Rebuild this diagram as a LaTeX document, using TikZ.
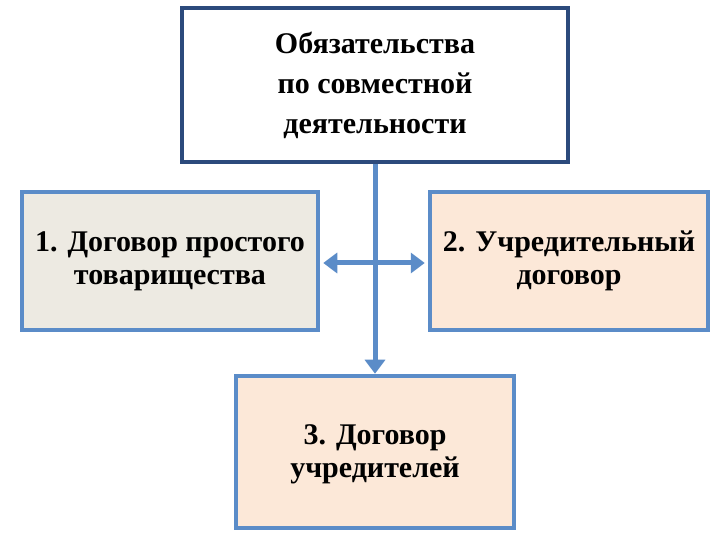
\documentclass[tikz,border=0pt]{standalone}
\usepackage{fontspec}
\setmainfont{Liberation Serif}
\usetikzlibrary{arrows.meta,calc}
\begin{document}
\begin{tikzpicture}[x=1pt,y=1pt,
 box/.style={line width=4.5pt,align=center,font=\bfseries\fontsize{30}{33}\selectfont},
 conn/.style={line width=5pt,draw=arrblue,arrows={-Triangle[length=14pt,width=20pt]}}]
\definecolor{darkb}{HTML}{2C4A7C}
\definecolor{midb}{HTML}{5B8CC8}
\definecolor{arrblue}{HTML}{5B8CC8}
\definecolor{greyf}{HTML}{EDEAE2}
\definecolor{peach}{HTML}{FCE8D8}
\useasboundingbox (0,0) rectangle (720,540);
\fill[white] (0,0) rectangle (720,540);
\node[box,draw=darkb,fill=white,minimum width=386pt,minimum height=154pt,font=\bfseries\fontsize{30}{40}\selectfont] (top) at (375,455) {Обязательства\\по совместной\\деятельности};
\node[box,draw=midb,fill=greyf,minimum width=296pt,minimum height=138pt] (l) at (170,279) {1. Договор простого\\товарищества};
\node[box,draw=midb,fill=peach,minimum width=278pt,minimum height=138pt] (r) at (569,279) {2. Учредительный\\договор};
\node[box,draw=midb,fill=peach,minimum width=278pt,minimum height=152pt] (b) at (375,88) {};
\node[font=\bfseries\fontsize{30}{33}\selectfont,align=center] (bt) at (375,86) {3. Договор\\учредителей};
\draw[conn] (top.south) -- (b.north);
\coordinate (hl) at ($(l.east)+(3,-2)$);
\coordinate (hr) at ($(r.west)+(-3,-2)$);
\draw[conn,arrows={Triangle[length=14pt,width=20pt]-Triangle[length=14pt,width=20pt]}] (hl) -- (hr);
\end{tikzpicture}
\end{document}
